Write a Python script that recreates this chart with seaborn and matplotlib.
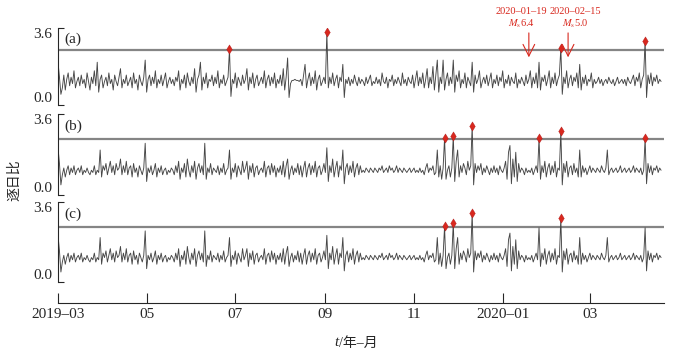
import pandas as pd
import seaborn as sns
import matplotlib.pyplot as plt
import matplotlib.dates as mdates

sns.set_style("ticks")
plt.rcParams["font.family"] = ["Liberation Serif", "Noto Sans CJK SC"]
plt.rcParams["mathtext.fontset"] = "stix"

# daily ratio series, 2019-03-01 .. 2020-04-19
ratio_a = [
    2.0, 1.3, 0.5, 0.8, 1.4, 0.7, 1.2, 1.5, 0.9, 1.3,
    1.0, 1.6, 0.8, 1.1, 1.3, 0.9, 1.4, 1.0, 1.2, 0.8,
    1.5, 1.1, 0.7, 1.3, 1.0, 1.6, 0.9, 2.0, 0.6, 1.2,
    1.4, 0.8, 1.1, 1.3, 0.9, 1.5, 1.0, 1.2, 0.7, 1.4,
    1.1, 0.9, 1.3, 1.7, 0.8, 1.2, 1.0, 1.4, 0.9, 1.1,
    1.3, 0.8, 1.5, 1.0, 1.2, 0.7, 1.4, 1.1, 0.9, 1.3,
    2.1, 0.6, 1.2, 1.4, 0.9, 1.3, 1.0, 1.6, 0.8, 1.2,
    1.0, 1.4, 0.9, 1.2, 1.5, 0.8, 1.1, 1.3, 1.0, 1.2,
    0.9, 1.3, 1.1, 1.6, 0.7, 1.2, 1.0, 1.4, 0.8, 1.5,
    1.1, 0.9, 1.3, 1.0, 1.7, 0.6, 1.2, 1.4, 2.0, 0.7,
    1.3, 1.0, 1.5, 0.8, 1.2, 1.1, 1.4, 0.9, 1.3, 1.0,
    1.6, 0.8, 1.2, 1.0, 1.4, 0.9, 1.1, 1.3, 2.6, 0.4,
    1.2, 1.0, 1.5, 0.8, 1.3, 1.1, 0.9, 1.4, 1.0, 1.2,
    1.7, 0.7, 1.3, 1.0, 1.5, 0.8, 1.2, 1.4, 0.9, 1.1,
    1.3, 1.0, 1.6, 0.8, 1.2, 1.4, 0.9, 1.3, 1.0, 1.5,
    0.8, 1.2, 1.0, 1.4, 0.9, 1.7, 0.7, 1.3, 2.2, 0.35,
    1.0, 1.15, 1.15, 1.2, 1.15, 1.15, 1.1, 1.2, 0.9, 1.4,
    1.9, 0.8, 1.2, 1.5, 0.9, 1.3, 1.0, 1.6, 0.7, 1.2,
    1.4, 0.9, 1.1, 1.3, 1.0, 3.4, 0.8, 1.3, 1.0, 1.5,
    0.9, 1.2, 1.4, 0.8, 1.3, 1.1, 1.9, 0.35, 1.2, 1.0,
    1.3, 0.9, 1.2, 1.0, 1.4, 1.1, 0.9, 1.3, 1.0, 1.2,
    1.1, 0.9, 1.3, 1.0, 1.2, 1.4, 0.9, 1.1, 1.0, 1.3,
    1.0, 1.2, 0.9, 1.5, 1.1, 1.0, 1.3, 0.8, 1.2, 1.1,
    1.4, 0.9, 1.2, 1.0, 1.3, 1.1, 0.9, 1.5, 1.0, 1.2,
    0.9, 1.3, 1.1, 1.0, 1.4, 0.8, 1.2, 1.6, 0.9, 1.3,
    1.0, 1.5, 0.8, 1.2, 1.7, 0.8, 1.3, 1.0, 1.8, 0.7,
    1.4, 2.1, 0.6, 1.3, 1.0, 2.1, 0.7, 1.2, 1.5, 0.9,
    1.3, 1.0, 2.1, 0.6, 1.4, 1.1, 1.6, 0.8, 1.2, 1.0,
    1.5, 0.8, 1.3, 1.1, 0.9, 2.0, 0.6, 1.4, 1.0, 1.2,
    1.6, 0.8, 1.1, 1.3, 1.0, 1.4, 0.9, 1.2, 1.5, 0.8,
    1.2, 1.0, 1.4, 0.9, 1.3, 1.1, 1.6, 0.8, 1.2, 1.0,
    1.4, 0.9, 1.3, 1.1, 1.0, 1.5, 0.8, 1.2, 1.0, 1.3,
    1.1, 0.9, 1.4, 1.0, 1.2, 1.6, 0.8, 1.3, 1.0, 1.5,
    0.8, 2.0, 0.7, 1.3, 1.1, 1.4, 0.9, 1.2, 1.6, 0.8,
    1.3, 1.0, 1.5, 0.9, 1.2, 1.4, 2.66, 0.5, 1.3, 1.0,
    1.6, 0.8, 1.2, 1.4, 0.9, 1.3, 1.1, 1.5, 0.8, 1.9,
    0.7, 1.3, 1.0, 1.4, 0.9, 1.2, 1.1, 1.5, 0.8, 1.2,
    1.0, 1.1, 1.3, 1.0, 1.2, 0.9, 1.1, 1.2, 1.0, 1.3,
    1.1, 1.0, 1.2, 0.9, 1.1, 1.3, 1.0, 1.1, 1.2, 1.0,
    1.2, 0.9, 1.3, 1.1, 1.0, 1.2, 1.4, 0.9, 1.3, 1.1,
    1.5, 0.8, 1.2, 1.4, 3.0, 0.35, 1.4, 1.0, 1.5, 0.9,
    1.3, 1.1, 1.4, 1.0, 1.2, 1.1,
]

ratio_b = [
    2.1, 1.4, 0.45, 0.9, 1.2, 0.8, 1.1, 1.3, 0.9, 1.2,
    1.0, 1.3, 0.9, 1.1, 1.2, 1.0, 1.3, 0.9, 1.1, 1.0,
    1.2, 1.0, 0.9, 1.1, 1.0, 1.3, 0.9, 1.1, 1.0, 2.0,
    0.8, 1.3, 1.1, 1.4, 0.9, 1.2, 1.5, 1.0, 1.3, 0.9,
    1.4, 1.1, 1.2, 1.6, 0.9, 1.3, 1.0, 1.5, 0.9, 1.2,
    1.3, 0.8, 1.4, 1.0, 1.2, 0.8, 1.3, 1.1, 0.9, 1.2,
    2.3, 0.6, 1.2, 1.0, 1.3, 0.9, 1.1, 1.4, 0.8, 1.2,
    1.0, 1.3, 0.9, 1.1, 1.2, 0.9, 1.1, 1.0, 1.2, 1.1,
    0.9, 1.3, 1.0, 1.5, 0.7, 1.2, 1.0, 1.4, 0.8, 1.6,
    1.1, 0.8, 1.3, 1.0, 1.5, 0.7, 1.2, 1.4, 1.0, 1.3,
    0.9, 2.3, 0.7, 1.2, 1.0, 1.4, 0.9, 1.2, 1.1, 1.0,
    1.3, 0.9, 1.2, 1.0, 1.4, 0.9, 1.1, 1.2, 2.0, 0.7,
    1.2, 1.0, 1.4, 0.8, 1.3, 1.1, 0.9, 1.5, 1.0, 1.2,
    1.5, 0.7, 1.3, 1.0, 1.4, 0.8, 1.2, 1.3, 0.9, 1.1,
    1.2, 1.0, 1.5, 0.8, 1.2, 1.3, 0.9, 1.4, 1.0, 1.3,
    0.8, 1.2, 1.0, 1.3, 0.9, 1.5, 0.8, 1.3, 1.6, 0.7,
    1.1, 1.3, 0.9, 1.2, 1.0, 1.4, 0.9, 1.3, 0.8, 1.2,
    1.5, 0.8, 1.2, 1.4, 0.9, 1.3, 1.0, 1.5, 0.8, 1.2,
    1.3, 0.9, 1.1, 1.4, 1.0, 2.1, 0.6, 1.3, 1.0, 1.6,
    0.8, 1.2, 1.5, 0.8, 1.3, 1.1, 2.0, 0.5, 1.2, 1.4,
    0.9, 1.3, 1.0, 1.5, 0.8, 1.2, 1.4, 0.9, 1.3, 1.0,
    1.1, 1.0, 1.2, 1.1, 1.0, 1.2, 1.1, 1.0, 1.2, 1.1,
    1.0, 1.2, 1.1, 1.3, 1.0, 1.1, 1.2, 1.0, 1.3, 1.1,
    1.2, 1.0, 1.1, 1.3, 1.0, 1.2, 1.1, 1.0, 1.2, 1.1,
    1.0, 1.1, 1.2, 1.0, 1.1, 1.2, 1.0, 1.1, 1.0, 1.2,
    1.0, 1.1, 0.9, 1.2, 1.4, 1.0, 1.2, 1.1, 1.3, 0.9,
    1.0, 2.0, 0.8, 1.3, 0.7, 1.2, 2.53, 0.7, 1.1, 1.3,
    0.8, 1.2, 2.62, 0.6, 1.5, 2.0, 0.8, 1.3, 1.0, 1.4,
    1.2, 0.9, 1.5, 1.1, 1.3, 3.07, 0.45, 1.4, 1.0, 1.3,
    1.1, 1.4, 0.9, 1.2, 1.0, 1.3, 1.1, 0.9, 1.2, 1.0,
    1.3, 1.0, 1.2, 0.9, 1.3, 1.1, 1.0, 1.2, 1.5, 0.7,
    1.9, 2.2, 0.5, 1.6, 0.8, 1.9, 0.6, 1.4, 1.0, 1.2,
    1.1, 0.9, 1.2, 1.0, 1.1, 1.0, 1.2, 0.9, 1.1, 1.3,
    1.0, 2.53, 0.7, 1.3, 1.0, 1.5, 0.8, 1.2, 1.4, 0.9,
    1.3, 1.0, 1.5, 0.8, 1.2, 1.1, 2.84, 0.45, 1.4, 1.0,
    1.5, 0.8, 1.2, 1.3, 0.9, 1.4, 1.0, 1.2, 0.8, 2.0,
    0.8, 1.3, 1.0, 1.2, 0.9, 1.1, 1.3, 1.0, 1.2, 1.1,
    1.0, 1.2, 1.1, 1.0, 1.3, 1.1, 1.0, 1.2, 2.0, 0.9,
    1.1, 1.2, 1.0, 1.1, 1.2, 1.0, 1.1, 1.3, 1.0, 1.1,
    1.2, 1.0, 1.1, 1.2, 1.0, 1.1, 1.3, 1.0, 1.2, 1.1,
    1.0, 1.2, 0.9, 1.1, 2.53, 0.5, 1.4, 1.0, 1.3, 0.9,
    1.2, 1.1, 1.3, 1.0, 1.2, 1.1,
]

ratio_c = [
    2.1, 1.4, 0.45, 0.9, 1.2, 0.8, 1.1, 1.3, 0.9, 1.2,
    1.0, 1.3, 0.9, 1.1, 1.2, 1.0, 1.3, 0.9, 1.1, 1.0,
    1.2, 1.0, 0.9, 1.1, 1.0, 1.3, 0.9, 1.1, 1.0, 2.0,
    0.8, 1.3, 1.1, 1.4, 0.9, 1.2, 1.5, 1.0, 1.3, 0.9,
    1.4, 1.1, 1.2, 1.6, 0.9, 1.3, 1.0, 1.5, 0.9, 1.2,
    1.3, 0.8, 1.4, 1.0, 1.2, 0.8, 1.3, 1.1, 0.9, 1.2,
    2.3, 0.6, 1.2, 1.0, 1.3, 0.9, 1.1, 1.4, 0.8, 1.2,
    1.0, 1.3, 0.9, 1.1, 1.2, 0.9, 1.1, 1.0, 1.2, 1.1,
    0.9, 1.3, 1.0, 1.5, 0.7, 1.2, 1.0, 1.4, 0.8, 1.6,
    1.1, 0.8, 1.3, 1.0, 1.5, 0.7, 1.2, 1.4, 1.0, 1.3,
    0.9, 2.3, 0.7, 1.2, 1.0, 1.4, 0.9, 1.2, 1.1, 1.0,
    1.3, 0.9, 1.2, 1.0, 1.4, 0.9, 1.1, 1.2, 2.0, 0.7,
    1.2, 1.0, 1.4, 0.8, 1.3, 1.1, 0.9, 1.5, 1.0, 1.2,
    1.5, 0.7, 1.3, 1.0, 1.4, 0.8, 1.2, 1.3, 0.9, 1.1,
    1.2, 1.0, 1.5, 0.8, 1.2, 1.3, 0.9, 1.4, 1.0, 1.3,
    0.8, 1.2, 1.0, 1.3, 0.9, 1.5, 0.8, 1.3, 1.6, 0.7,
    1.1, 1.3, 0.9, 1.2, 1.0, 1.4, 0.9, 1.3, 0.8, 1.2,
    1.5, 0.8, 1.2, 1.4, 0.9, 1.3, 1.0, 1.5, 0.8, 1.2,
    1.3, 0.9, 1.1, 1.4, 1.0, 2.1, 0.6, 1.3, 1.0, 1.6,
    0.8, 1.2, 1.5, 0.8, 1.3, 1.1, 2.0, 0.5, 1.2, 1.4,
    0.9, 1.3, 1.0, 1.5, 0.8, 1.2, 1.4, 0.9, 1.3, 1.0,
    1.1, 1.0, 1.2, 1.1, 1.0, 1.2, 1.1, 1.0, 1.2, 1.1,
    1.0, 1.2, 1.1, 1.3, 1.0, 1.1, 1.2, 1.0, 1.3, 1.1,
    1.2, 1.0, 1.1, 1.3, 1.0, 1.2, 1.1, 1.0, 1.2, 1.1,
    1.0, 1.1, 1.2, 1.0, 1.1, 1.2, 1.0, 1.1, 1.0, 1.2,
    1.0, 1.1, 0.9, 1.2, 1.4, 1.0, 1.2, 1.1, 1.3, 0.9,
    1.0, 2.0, 0.8, 1.3, 0.7, 1.2, 2.50, 0.6, 1.1, 1.3,
    0.8, 1.2, 2.66, 0.6, 1.5, 2.0, 0.8, 1.3, 1.0, 1.4,
    1.2, 0.9, 1.5, 1.1, 1.3, 3.1, 0.45, 1.4, 1.0, 1.3,
    1.1, 1.4, 0.9, 1.2, 1.0, 1.3, 1.1, 0.9, 1.2, 1.0,
    1.3, 1.0, 1.2, 0.9, 1.3, 1.1, 1.0, 1.2, 1.5, 0.7,
    1.9, 2.2, 0.5, 1.6, 0.8, 1.9, 0.6, 1.4, 1.0, 1.2,
    1.1, 0.9, 1.2, 1.0, 1.1, 1.0, 1.2, 0.9, 1.1, 1.3,
    1.0, 2.44, 0.7, 1.3, 1.0, 1.5, 0.8, 1.2, 1.4, 0.9,
    1.3, 1.0, 1.5, 0.8, 1.2, 1.1, 2.88, 0.45, 1.4, 1.0,
    1.5, 0.8, 1.2, 1.3, 0.9, 1.4, 1.0, 1.2, 0.8, 2.0,
    0.8, 1.3, 1.0, 1.2, 0.9, 1.1, 1.3, 1.0, 1.2, 1.1,
    1.0, 1.2, 1.1, 1.0, 1.3, 1.1, 1.0, 1.2, 2.0, 0.9,
    1.1, 1.2, 1.0, 1.1, 1.2, 1.0, 1.1, 1.3, 1.0, 1.1,
    1.2, 1.0, 1.1, 1.2, 1.0, 1.1, 1.3, 1.0, 1.2, 1.1,
    1.0, 1.2, 0.9, 1.1, 2.44, 0.5, 1.4, 1.0, 1.3, 0.9,
    1.2, 1.1, 1.3, 1.0, 1.2, 1.1,
]

thresholds = [2.57, 2.49, 2.47]
panel_names = ["(a)", "(b)", "(c)"]

quake_dates = ["2020-01-19", "2020-02-15"]
quake_text_dates = ["2020-01-14", "2020-02-20"]
quake_labels = ["2020\u201301\u201319", "2020\u201302\u201315"]
quake_mags = [r"$M_{\rm s}$6.4", r"$M_{\rm s}$5.0"]

tick_dates = ["2019-03-01", "2019-05-01", "2019-07-01", "2019-09-01",
              "2019-11-01", "2020-01-01", "2020-03-01"]
tick_labels = ["2019\u201303", "05", "07", "09", "11", "2020\u201301", "03"]

days = pd.date_range("2019-03-01", periods=len(ratio_a), freq="D")
xlim = (pd.Timestamp("2019-03-01"), pd.Timestamp("2020-04-21"))

W, H = 693, 358
fig = plt.figure(figsize=(W / 100, H / 100), dpi=100)

def box(top, bottom):
    return [58 / W, 1 - bottom / H, 606 / W, (bottom - top) / H]

boxes = [box(28, 105), box(114, 195), box(202, 282)]
red = "#d8281e"

axes = []
for vals, th, name, b in zip([ratio_a, ratio_b, ratio_c], thresholds, panel_names, boxes):
    ax = fig.add_axes(b)
    df = pd.DataFrame({"date": days, "ratio": vals})
    ax.axhline(th, color="#858585", lw=1.6, zorder=1)
    sns.lineplot(data=df, x="date", y="ratio", ax=ax, color="#464646", lw=0.65, zorder=2)
    hits = df[df["ratio"] > th]
    sns.scatterplot(data=hits, x="date", y="ratio", ax=ax, marker="d", s=22,
                    color=red, edgecolor="#b01818", linewidth=0.3, zorder=3)
    ax.set_xlim(xlim)
    ax.set_ylim(0, 3.6)
    ax.set_yticks([0, 3.6])
    ax.set_yticklabels(["0.0", "3.6"])
    ax.tick_params(axis="y", direction="in", length=4, labelsize=11, pad=4)
    lo, hi = ax.get_yticklabels()
    lo.set_va("bottom")
    hi.set_va("top")
    ax.set_xticks([])
    ax.set_xlabel("")
    ax.set_ylabel("")
    for s in ["top", "right", "bottom"]:
        ax.spines[s].set_visible(False)
    ax.patch.set_visible(False)
    ax.text(0.01, 0.85, name, transform=ax.transAxes, fontsize=11, va="center", ha="left")
    axes.append(ax)

# earthquake annotations on panel (a)
ax_a = axes[0]
for qd, td, lab, mag in zip(quake_dates, quake_text_dates, quake_labels, quake_mags):
    x = mdates.date2num(pd.Timestamp(qd))
    xt = mdates.date2num(pd.Timestamp(td))
    ax_a.annotate("", xy=(x, 2.1), xytext=(x, 3.5), annotation_clip=False,
                  arrowprops=dict(arrowstyle="->,head_length=0.6,head_width=0.3",
                                  color=red, lw=0.8, mutation_scale=14))
    ax_a.text(xt, 4.35, lab, color=red, fontsize=7.5, ha="center", va="center", clip_on=False)
    ax_a.text(xt, 3.8, mag, color=red, fontsize=7.5, ha="center", va="center", clip_on=False)

# shared time axis at the bottom
axx = fig.add_axes([58 / W, 1 - 303 / H, 606 / W, 0.02])
axx.set_xlim(xlim)
axx.set_yticks([])
axx.set_xticks(pd.to_datetime(tick_dates))
axx.set_xticklabels(tick_labels)
axx.tick_params(axis="x", direction="in", length=7.5, labelsize=11, pad=3.5)
for s in ["top", "right", "left"]:
    axx.spines[s].set_visible(False)
axx.patch.set_visible(False)

fig.text(15 / W, 1 - 180 / H, "逐日比", rotation=90, fontsize=10, ha="center", va="center")
fig.text(339 / W, 1 - 343 / H, "t", fontstyle="italic", fontsize=11, ha="right", va="center")
fig.text(339 / W, 1 - 343 / H, "/年\u2013月", fontsize=10, ha="left", va="center")

fig.savefig("out.png", dpi=100)
